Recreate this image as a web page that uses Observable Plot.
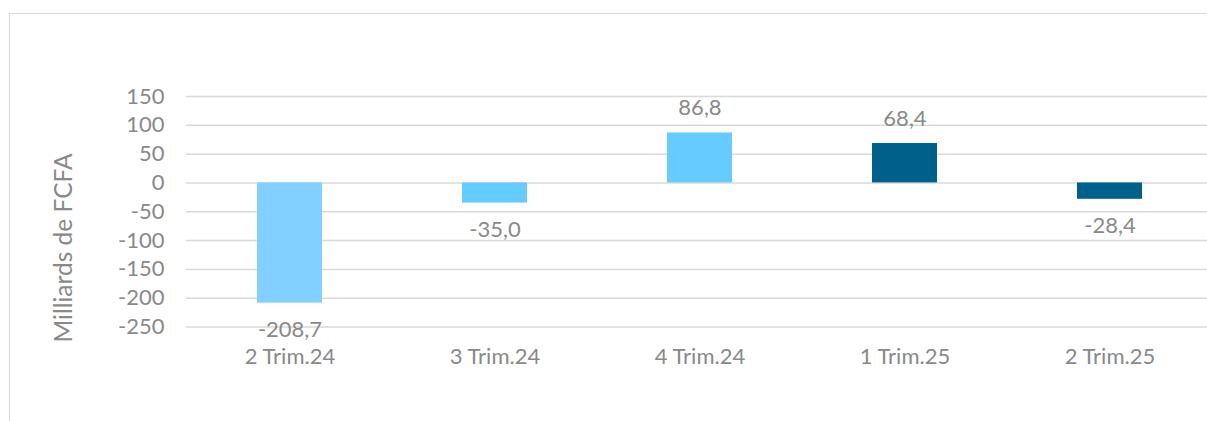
<!DOCTYPE html>
<html>
<head>
<meta charset="utf-8">
<script src="https://cdn.jsdelivr.net/npm/d3@7"></script>
<script src="https://cdn.jsdelivr.net/npm/@observablehq/plot@0.6"></script>
<style>
  html, body { margin: 0; padding: 0; background: #fff; overflow: hidden; }
  #wrap { position: relative; width: 1207px; height: 421px; overflow: hidden; font-family: Lato, "Open Sans", sans-serif; }
  #frame { position: absolute; left: 9px; top: 13px; width: 1400px; height: 600px; border: 1.5px solid #d9d9d9; box-sizing: border-box; }
  #chart { position: absolute; left: 0; top: 0; }
  #ytitle { position: absolute; left: 62px; top: 248px; transform: translate(-50%, -50%) rotate(-90deg); white-space: nowrap; font-size: 24.5px; color: #898989; }
</style>
</head>
<body>
<div id="wrap">
  <div id="frame"></div>
  <div id="chart"></div>
  <div id="ytitle">Milliards de FCFA</div>
</div>
<script>
const categories = ["2 Trim.24", "3 Trim.24", "4 Trim.24", "1 Trim.25", "2 Trim.25"];
const values = [-208.7, -35.0, 86.8, 68.4, -28.4];
const colors = ["#82D0FF", "#66CCFF", "#66CCFF", "#00608C", "#00608C"];
const yTicks = [-250, -200, -150, -100, -50, 0, 50, 100, 150];

const data = categories.map((c, i) => ({cat: c, val: values[i], color: colors[i]}));
const fmt = v => v.toFixed(1).replace(".", ",");
const textColor = "#898989";

const chart = Plot.plot({
  width: 1207,
  height: 421,
  marginLeft: 186,
  marginRight: 0,
  marginTop: 96,
  marginBottom: 94.5,
  style: {fontFamily: "Lato, 'Open Sans', sans-serif", fontSize: "22px", color: textColor, background: "transparent", overflow: "visible"},
  x: {domain: categories, range: [186, 1213.5], paddingInner: 0.684, paddingOuter: 0.342},
  y: {domain: [-250, 150], range: [326.5, 96]},
  marks: [
    Plot.gridY(yTicks, {stroke: "#d9d9d9", strokeOpacity: 1, strokeWidth: 1.5}),
    Plot.axisY(yTicks, {tickSize: 0, tickPadding: 22, label: null, tickFormat: d => `${d}`, fill: textColor, fontSize: 22}),
    Plot.barY(data, {x: "cat", y: "val", fill: "color"}),
    Plot.text(data.filter(d => d.val >= 0), {x: "cat", y: "val", text: d => fmt(d.val), dy: -25, lineAnchor: "middle", fill: textColor, fontSize: 22}),
    Plot.text(data.filter(d => d.val < 0), {x: "cat", y: "val", text: d => fmt(d.val), dy: 27, lineAnchor: "middle", fill: textColor, fontSize: 22}),
    Plot.axisX({tickSize: 0, tickPadding: 21, label: null, fill: textColor, fontSize: 22})
  ]
});
document.getElementById("chart").appendChild(chart);
</script>
</body>
</html>
